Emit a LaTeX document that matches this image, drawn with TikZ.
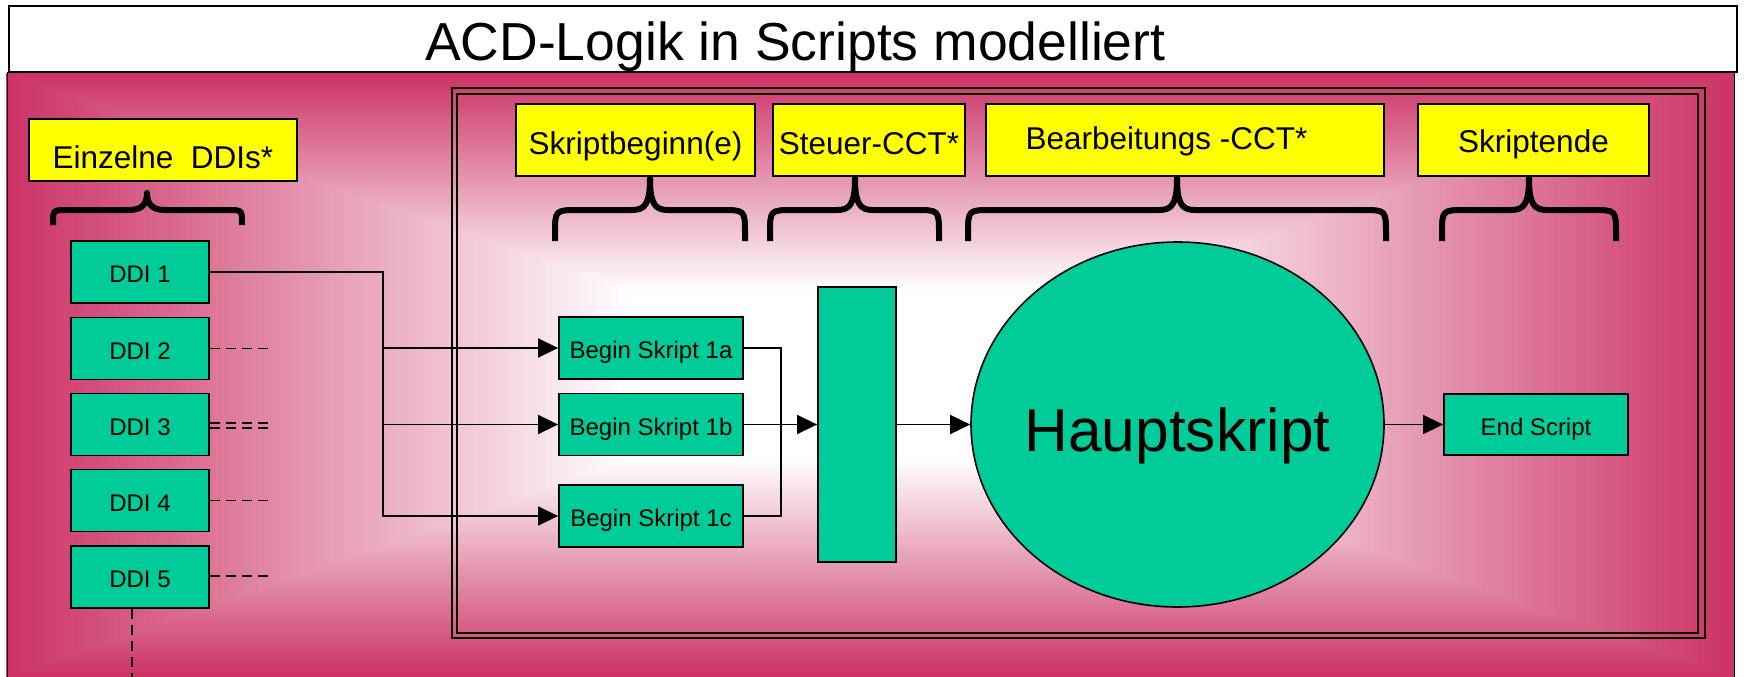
\documentclass[tikz,border=0pt]{standalone}
\usepackage{fontspec}
\setmainfont{Liberation Sans}
\usetikzlibrary{arrows.meta,shapes.geometric}

\definecolor{panelmag}{HTML}{CC3366}
\definecolor{boxgreen}{HTML}{00CC99}
\definecolor{labelyellow}{HTML}{FFFF00}

\tikzset{
  greenbox/.style={draw=black, line width=1.8pt, fill=boxgreen, inner sep=0pt,
    font=\fontsize{24}{28}\selectfont, text height=21pt, text depth=0pt},
  ybox/.style={draw=black, line width=1.8pt, fill=labelyellow, inner sep=0pt,
    minimum height=72pt, font=\fontsize{31.5}{36}\selectfont,
    text height=22.6pt, text depth=0pt},
  conn/.style={line width=1.6pt, draw=black},
  arr/.style={conn, -{Triangle[length=20pt,width=19pt]}},
  dsh/.style={line width=1.6pt, dash pattern=on 10pt off 6pt},
  bracepath/.style={line width=6pt, line cap=butt, line join=round},
  frameline/.style={line width=2pt}
}

\begin{document}
\begin{tikzpicture}[x=1pt,y=-1pt]
\useasboundingbox (0,0) rectangle (1749,677);
\fill[white] (0,0) rectangle (1749,677);

% rectangular "from centre" gradient of the main panel: white core, magenta rim
\foreach \i in {120,119,...,33}{
  \pgfmathsetmacro{\t}{\i/120}
  \pgfmathsetmacro{\m}{max(0,min(100,100*(\t-0.28)/0.72))}
  \fill[panelmag!\m!white] ({870-864*\t},{375-302*\t}) rectangle ({870+864*\t},{375+302*\t});
}
\draw[line width=1pt] (7,677) -- (7,73) -- (1734,73) -- (1734,677);

% title bar
\draw[line width=2pt, fill=white] (9,6) rectangle (1737,72);
\node[anchor=base west, inner sep=0pt, font=\fontsize{53.5}{60}\selectfont] (title) at (425,61)
  {ACD-Logik in Scripts modelliert};

% double frame around the script part
\draw[frameline] (452,88) rectangle (1705,638);
\draw[frameline] (457,94) rectangle (1698,633);

% category labels
\node[ybox, minimum width=268pt, minimum height=62pt] (einz) at (163,150) {\raisebox{-7pt}{Einzelne\ \ DDIs*}};
\node[ybox, minimum width=239pt] (skbeg) at (635.5,140) {\raisebox{-3pt}{Skriptbeginn(e)}};
\node[ybox, minimum width=192pt] (steuer) at (869,140) {\raisebox{-3pt}{Steuer-CCT*}};
\node[ybox, minimum width=398pt] (bearb) at (1185,140) {\raisebox{2pt}{Bearbeitungs -CCT*}\hspace*{37pt}};
\node[ybox, minimum width=231pt] (skend) at (1533.5,140) {\raisebox{-1.5pt}{Skriptende}};

% curly braces below the labels
\foreach \L/\C/\R/\T/\A/\B/\r in {53/147/242/193/210/225/14,
                                   555/650/745/178/210/241/24,
                                   770/855/939/178/210/241/24,
                                   968/1177/1386/178/210/241/24,
                                   1442/1529/1616/178/210/241/24}{
  \draw[bracepath] (\L,\B) -- (\L,\A+\r) .. controls (\L,\A) .. (\L+\r,\A)
    -- (\C-18,\A) .. controls (\C-5,\A) and (\C,\A-6) .. (\C,\T)
    .. controls (\C,\A-6) and (\C+5,\A) .. (\C+18,\A)
    -- (\R-\r,\A) .. controls (\R,\A) .. (\R,\A+\r) -- (\R,\B);
}

% single DDIs
\node[greenbox, minimum width=138pt, minimum height=62pt] (ddi1) at (140,272) {DDI 1};
\node[greenbox, minimum width=138pt, minimum height=62pt] (ddi2) at (140,348.5) {DDI 2};
\node[greenbox, minimum width=138pt, minimum height=62pt] (ddi3) at (140,424.5) {DDI 3};
\node[greenbox, minimum width=138pt, minimum height=62pt] (ddi4) at (140,500.5) {DDI 4};
\node[greenbox, minimum width=138pt, minimum height=62pt] (ddi5) at (140,577) {DDI 5};

% script beginnings
\node[greenbox, minimum width=184pt, minimum height=62pt] (b1a) at (651,348) {Begin Skript 1a};
\node[greenbox, minimum width=184pt, minimum height=62pt] (b1b) at (651,424.5) {Begin Skript 1b};
\node[greenbox, minimum width=184pt, minimum height=62pt] (b1c) at (651,516) {Begin Skript 1c};

% control CCT bar, main script, end script
\node[greenbox, minimum width=78pt, minimum height=275pt] (bar) at (857,424.5) {};
\node[greenbox, ellipse, line width=1.6pt, minimum width=413pt, minimum height=365pt,
      font=\fontsize{60.5}{66}\selectfont, text height=53pt] (haupt) at (1177.5,424.5)
      {\makebox[0pt]{Hauptskript}};
\node[greenbox, minimum width=184pt, minimum height=61pt] (endsc) at (1536,424.5) {End Script};

% DDI 1 fans out to the three script beginnings
\coordinate (fan) at (383,272);
\draw[arr] (ddi1.east) -- (fan) |- (b1c.west);
\draw[arr] (fan |- b1a.west) -- (b1a.west);
\draw[arr] (fan |- b1b.west) -- (b1b.west);

% the beginnings merge into the control CCT
\coordinate (merge) at (781,424.5);
\draw[conn] (b1a.east) -- (b1a.east -| merge) -- (b1c.east -| merge) -- (b1c.east);
\draw[arr] (b1b.east) -- (bar.west);
\draw[arr] (bar.east) -- (haupt.west);
\draw[arr] (haupt.east) -- (endsc.west);

% open ends of the other DDIs
\coordinate (d2) at (271,348.5);
\coordinate (d3a) at (273,423);
\coordinate (d3b) at (273,428);
\coordinate (d4) at (271,500.5);
\coordinate (d5) at (273,576);
\coordinate (d5down) at (132,677);
\draw[dsh] (ddi2.east) -- (d2);
\draw[dsh] (ddi3.east |- d3a) -- (d3a);
\draw[dsh] (ddi3.east |- d3b) -- (d3b);
\draw[dsh] (ddi4.east) -- (d4);
\draw[dsh, line width=2.6pt] (ddi5.east |- d5) -- (d5);
\draw[dsh] (ddi5.south -| d5down) -- (d5down);
\end{tikzpicture}
\end{document}
